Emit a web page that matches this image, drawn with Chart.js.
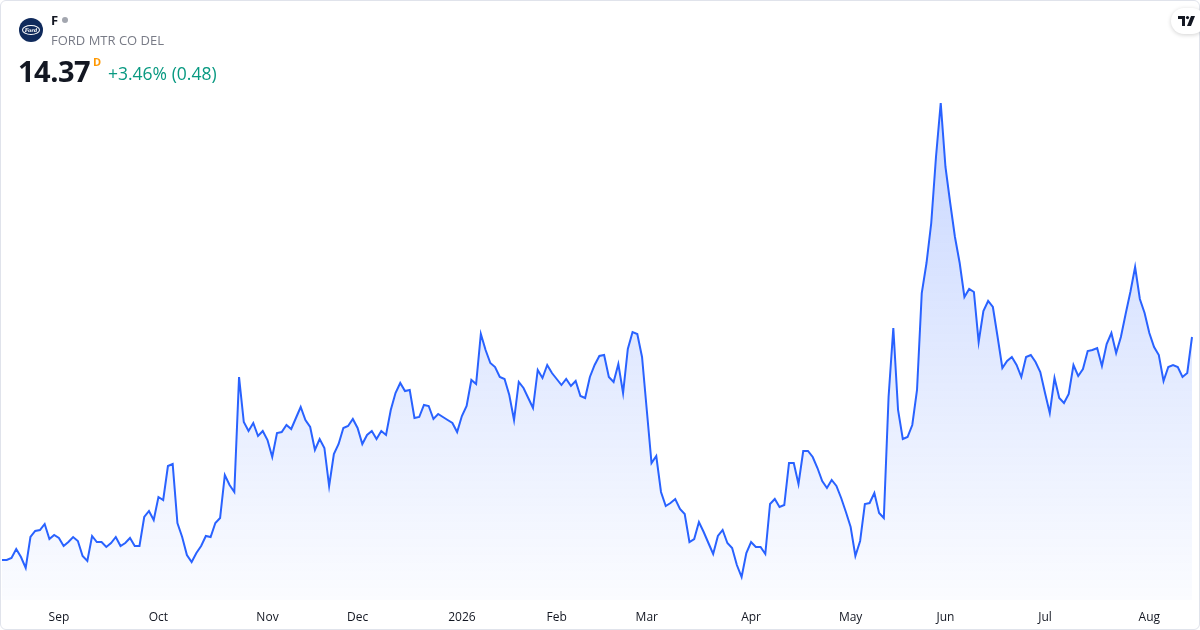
<!DOCTYPE html>
<html>
<head>
<meta charset="utf-8">
<script src="https://cdn.jsdelivr.net/npm/chart.js@4"></script>
<style>
    html, body { margin: 0; padding: 0; background: #fff; }
    body { width: 1200px; height: 630px; overflow: hidden; font-family: "Open Sans", "Noto Sans", sans-serif; }
    .frame { position: absolute; left: 0; top: 0; width: 1198px; height: 628px; border: 1px solid #e0e3eb; border-radius: 6px; }
    #chart { position: absolute; left: 0; top: 0; }
    .logo { position: absolute; left: 19px; top: 18px; width: 24px; height: 24px; border-radius: 50%; background: #0f2a5c; }
    .logo .oval { position: absolute; left: 3px; top: 7px; width: 16px; height: 8px; border: 1px solid #fff; border-radius: 50%; color: #fff; font: italic bold 5px "DejaVu Serif", serif; text-align: center; line-height: 8px; }
    .ticker { position: absolute; left: 51px; top: 11px; font-size: 13px; font-weight: 700; color: #131722; }
    .dot { position: absolute; left: 62px; top: 17px; width: 6px; height: 6px; border-radius: 50%; background: #a3a6af; }
    .name { position: absolute; left: 51px; top: 31px; font-size: 13px; color: #787b86; }
    .price { position: absolute; left: 18px; top: 51px; font-size: 29px; font-weight: 700; color: #131722; letter-spacing: -0.5px; }
    .sup { position: absolute; left: 93px; top: 54px; font-size: 11px; font-weight: 700; color: #ff9800; }
    .change { position: absolute; left: 108px; top: 61px; font-size: 17.5px; color: #089981; }
    .tv { position: absolute; left: 1171px; top: 8px; width: 34px; height: 26px; border-radius: 13px; background: #fff; box-shadow: 0 1px 4px rgba(0,0,0,0.18); }
    .tv svg { position: absolute; left: 7px; top: 8px; }
</style>
</head>
<body>
<canvas id="chart" width="1200" height="630"></canvas>
<div class="frame"></div>
<div class="logo"><div class="oval">Ford</div></div>
<div class="ticker">F</div>
<div class="dot"></div>
<div class="name">FORD MTR CO DEL</div>
<div class="price">14.37</div>
<div class="sup">D</div>
<div class="change">+3.46% (0.48)</div>
<div class="tv">
    <svg width="18" height="10" viewBox="0 0 18 10">
        <path d="M0 0H7V10H4V3H0Z" fill="#131722"/>
        <circle cx="9.5" cy="1.6" r="1.6" fill="#131722"/>
        <path d="M13 0H17L13 10H9Z" fill="#131722"/>
    </svg>
</div>
<script>
// daily closes
const prices = [
    9.91, 9.91, 9.95, 10.13, 9.97, 9.75, 10.37, 10.49, 10.51, 10.63,
    10.33, 10.41, 10.35, 10.19, 10.27, 10.37, 10.29, 9.99, 9.89, 10.39,
    10.27, 10.27, 10.17, 10.25, 10.37, 10.19, 10.25, 10.35, 10.19, 10.19,
    10.77, 10.89, 10.71, 11.17, 11.11, 11.79, 11.83, 10.65, 10.37, 10.01,
    9.87, 10.05, 10.19, 10.39, 10.37, 10.65, 10.75, 11.61, 11.41, 11.27,
    13.57, 12.67, 12.49, 12.65, 12.39, 12.49, 12.31, 11.97, 12.45, 12.47,
    12.61, 12.53,
    12.75, 12.97, 12.71, 12.57, 12.11, 12.33, 12.15, 11.39, 12.03, 12.23,
    12.55, 12.59, 12.73, 12.55, 12.23, 12.41, 12.49, 12.33, 12.49, 12.41,
    12.91, 13.25, 13.45, 13.29, 13.31, 12.75, 12.77, 13.01, 12.99, 12.73,
    12.83, 12.77, 12.71, 12.65, 12.47, 12.79, 12.99, 13.51, 13.43, 14.43,
    14.11, 13.85, 13.77, 13.57, 13.53, 13.21, 12.71, 13.47, 13.35, 13.15,
    12.95, 13.71, 13.55, 13.81, 13.65, 13.53, 13.41, 13.53, 13.39, 13.49,
    13.19, 13.15, 13.57, 13.81, 13.99, 14.01, 13.57, 13.47, 13.83, 13.25,
    14.13, 14.47, 14.43, 13.97, 12.91, 11.85, 11.99, 11.27, 10.99, 11.05,
    11.13, 10.93, 10.83, 10.27, 10.33, 10.67, 10.47, 10.25, 10.03, 10.39,
    10.51, 10.25, 10.15, 9.81, 9.57, 10.05, 10.27, 10.17, 10.17, 10.03,
    11.03, 11.13, 10.97, 11.01,
    11.85, 11.85, 11.43, 12.09, 12.09, 11.97, 11.75, 11.49, 11.35, 11.51,
    11.39, 11.15, 10.87, 10.57, 9.99, 10.29, 11.03, 11.05, 11.25, 10.85,
    10.75, 13.17, 14.55, 12.91, 12.33, 12.37, 12.61, 13.31,
    15.25, 15.85, 16.65, 17.97, 19.05, 17.77, 17.05, 16.37, 15.85, 15.17,
    15.33, 15.27, 14.27, 14.89, 15.09, 14.97, 14.37, 13.75, 13.89, 13.97,
    13.81, 13.57, 13.97, 14.01, 13.87,
    13.67, 13.25, 12.85, 13.55, 13.15, 13.05, 13.23, 13.81, 13.59, 13.73,
    14.09, 14.11, 14.15, 13.79, 14.23, 14.45, 14.05, 14.37, 14.83, 15.27,
    15.77, 15.13, 14.85, 14.45, 14.17, 14.01, 13.49, 13.77, 13.81, 13.77,
    13.57, 13.65, 14.37
];

// month ticks: bar index where each month starts
const tickIndex = [12, 33, 56, 75, 97, 117, 136, 158, 179, 199, 220, 242];
const tickLabel = ['Sep', 'Oct', 'Nov', 'Dec', '2026', 'Feb', 'Mar', 'Apr', 'May', 'Jun', 'Jul', 'Aug'];

const yMin = 9.11;
const yMax = 19.91;

const ctx = document.getElementById('chart');

new Chart(ctx, {
    type: 'line',
    data: {
        labels: prices.map((_, i) => i),
        datasets: [{
            data: prices,
            borderColor: '#2962ff',
            borderWidth: 2,
            pointRadius: 0,
            tension: 0,
            fill: 'start',
            backgroundColor: function(context) {
                const area = context.chart.chartArea;
                if (!area) return 'rgba(41, 98, 255, 0.1)';
                const g = context.chart.ctx.createLinearGradient(0, 100, 0, area.bottom);
                g.addColorStop(0, 'rgba(41, 98, 255, 0.26)');
                g.addColorStop(1, 'rgba(41, 98, 255, 0.02)');
                return g;
            }
        }]
    },
    options: {
        responsive: false,
        animation: false,
        devicePixelRatio: 1,
        layout: {
            padding: { left: 2, right: 8, top: 60, bottom: 0 }
        },
        plugins: {
            legend: { display: false },
            tooltip: { enabled: false }
        },
        scales: {
            x: {
                grid: { display: false, drawTicks: false },
                border: { display: false },
                afterFit: function(scale) { scale.height = 30; },
                ticks: {
                    autoSkip: false,
                    maxRotation: 0,
                    padding: 10,
                    color: '#131722',
                    font: function(c) {
                        const idx = tickIndex.indexOf(c.index);
                        const bold = idx >= 0 && tickLabel[idx] === '2026';
                        return { family: '"Open Sans", "Noto Sans", sans-serif', size: 12, weight: bold ? 'bold' : 'normal' };
                    },
                    callback: function(value, index) {
                        const k = tickIndex.indexOf(index);
                        return k >= 0 ? tickLabel[k] : null;
                    }
                }
            },
            y: {
                display: false,
                min: yMin,
                max: yMax
            }
        }
    }
});
</script>
</body>
</html>
